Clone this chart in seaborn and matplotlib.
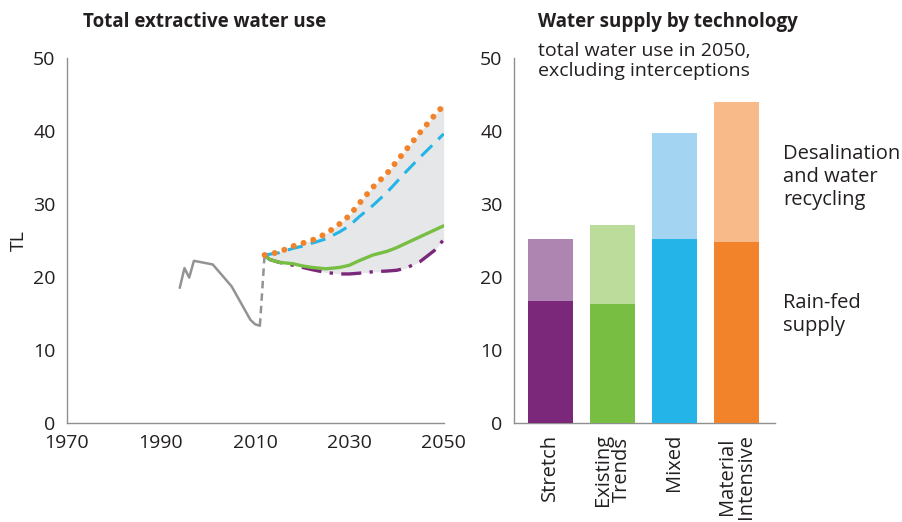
import numpy as np
import pandas as pd
import matplotlib
matplotlib.use("Agg")
import matplotlib.pyplot as plt
import seaborn as sns

# ---- data ----
hist_years = [1994, 1995, 1996, 1997, 2001, 2005, 2009, 2010, 2011]
hist_vals = [18.5, 21.2, 19.9, 22.2, 21.7, 18.7, 14.1, 13.5, 13.3]
link_years = [2011, 2012]
link_vals = [13.3, 23.0]

scen_years = [2012, 2013, 2015, 2018, 2020, 2022, 2025, 2028, 2030, 2032, 2035, 2038, 2040, 2042, 2045, 2048, 2050]
material = [23.0, 23.1, 23.4, 24.2, 24.6, 25.0, 25.9, 27.3, 28.4, 30.0, 32.3, 34.2, 35.8, 37.4, 39.8, 42.1, 43.5]
mixed = [23.0, 23.1, 23.3, 23.9, 24.2, 24.6, 25.2, 26.2, 27.0, 28.2, 29.8, 31.6, 33.0, 34.4, 36.4, 38.3, 39.6]
existing = [23.0, 22.4, 22.0, 21.8, 21.5, 21.3, 21.1, 21.3, 21.6, 22.2, 23.0, 23.5, 24.0, 24.6, 25.5, 26.4, 27.0]
stretch = [23.0, 22.4, 22.0, 21.6, 21.3, 21.0, 20.6, 20.4, 20.4, 20.5, 20.7, 20.8, 20.9, 21.2, 22.1, 23.6, 25.1]

bar_cats = ["Stretch", "Existing\nTrends", "Mixed", "Material\nIntensive"]
rainfed = [16.7, 16.3, 25.2, 24.8]
totals = [25.2, 27.1, 39.7, 44.0]

dark_cols = ["#7B287B", "#78BE43", "#24B4E7", "#F2832A"]
light_cols = ["#AD85B0", "#BBDC9B", "#A3D5F2", "#F8BA89"]

x_ticks_left = [1970, 1980, 1990, 2000, 2010, 2020, 2030, 2040, 2050]
x_labels_left = ["1970", "", "1990", "", "2010", "", "2030", "", "2050"]
y_ticks = [0, 10, 20, 30, 40, 50]

# ---- style ----
sns.set_style("white")
plt.rcParams['font.family'] = ['Open Sans', 'DejaVu Sans']
spine_col = "#8f8f8f"
txt_col = "#231f20"

fig = plt.figure(figsize=(9.02, 5.22), dpi=100)
ax1 = fig.add_axes([0.0739, 0.190, 0.4180, 0.699])
ax2 = fig.add_axes([0.5695, 0.190, 0.2895, 0.699])

# ---- left chart ----
yrs = np.array(scen_years)
upper = np.maximum.reduce([material, mixed, existing, stretch])
lower = np.minimum.reduce([material, mixed, existing, stretch])
ax1.fill_between(yrs, lower, upper, color="#E6E7E8", lw=0, zorder=1)

sns.lineplot(x=hist_years, y=hist_vals, ax=ax1, color="#939393", lw=1.8, zorder=3)
sns.lineplot(x=link_years, y=link_vals, ax=ax1, color="#939393", lw=1.8, zorder=3,
             linestyle=(0, (3, 2)))
sns.lineplot(x=scen_years, y=stretch, ax=ax1, color=dark_cols[0], lw=2.4, zorder=4,
             linestyle=(0, (6, 2.5, 1, 2.5)))
sns.lineplot(x=scen_years, y=existing, ax=ax1, color=dark_cols[1], lw=2.4, zorder=5)
sns.lineplot(x=scen_years, y=mixed, ax=ax1, color=dark_cols[2], lw=2.2, zorder=5,
             linestyle=(0, (5, 2.8)))
sns.lineplot(x=scen_years, y=material, ax=ax1, color=dark_cols[3], lw=4.3, zorder=6,
             linestyle=(0, (0.01, 1.7)))
ax1.lines[-1].set_dash_capstyle("round")

ax1.set_xlim(1970, 2050)
ax1.set_ylim(0, 50)
ax1.set_xticks(x_ticks_left)
ax1.set_xticklabels(x_labels_left)
ax1.set_yticks(y_ticks)
ax1.set_ylabel("TL", fontsize=14, color=txt_col, labelpad=4)

fig.text(83 / 902, 1 - 22 / 522, "Total extractive water use", fontsize=13.5,
         fontweight="bold", color=txt_col, va="center", ha="left")

for ax in (ax1, ax2):
    for s in ("top", "right"):
        ax.spines[s].set_visible(False)
    for s in ("left", "bottom"):
        ax.spines[s].set_color(spine_col)
        ax.spines[s].set_linewidth(1.0)
    ax.tick_params(axis="both", which="both", direction="out", color=spine_col,
                   length=5, width=1.0, labelsize=14, labelcolor=txt_col, pad=3)
    ax.grid(False)

# ---- right chart ----
xpos = np.arange(len(bar_cats))
sns.barplot(x=xpos, y=totals, hue=xpos, palette=light_cols, ax=ax2, legend=False,
            width=0.73, saturation=1, native_scale=True, zorder=2, linewidth=0)
sns.barplot(x=xpos, y=rainfed, hue=xpos, palette=dark_cols, ax=ax2, legend=False,
            width=0.73, saturation=1, native_scale=True, zorder=3, linewidth=0)
ax2.set_xlim(-0.59, 3.62)
ax2.set_ylim(0, 50)
ax2.set_yticks(y_ticks)
ax2.set_xticks(xpos)
ax2.set_xticklabels(bar_cats, rotation=90, fontsize=14.5, linespacing=0.9)
ax2.tick_params(axis="x", which="major", length=0, pad=8)
ax2.set_xticks([-0.59, 3.62], minor=True)
ax2.tick_params(axis="x", which="minor", length=5)
ax2.set_xlabel("")
ax2.set_ylabel("")

fig.text(538 / 902, 1 - 22 / 522, "Water supply by technology", fontsize=13.5,
         fontweight="bold", color=txt_col, va="center", ha="left")
fig.text(538 / 902, 1 - 61 / 522, "total water use in 2050,\nexcluding interceptions",
         fontsize=14, color=txt_col, va="center", ha="left", linespacing=1.2)
fig.text(783 / 902, 1 - 177 / 522, "Desalination\nand water\nrecycling",
         fontsize=14.5, color=txt_col, va="center", ha="left", linespacing=1.2)
fig.text(783 / 902, 1 - 315 / 522, "Rain-fed\nsupply",
         fontsize=14.5, color=txt_col, va="center", ha="left", linespacing=1.2)

fig.savefig("out.png", dpi=100, facecolor="white")
